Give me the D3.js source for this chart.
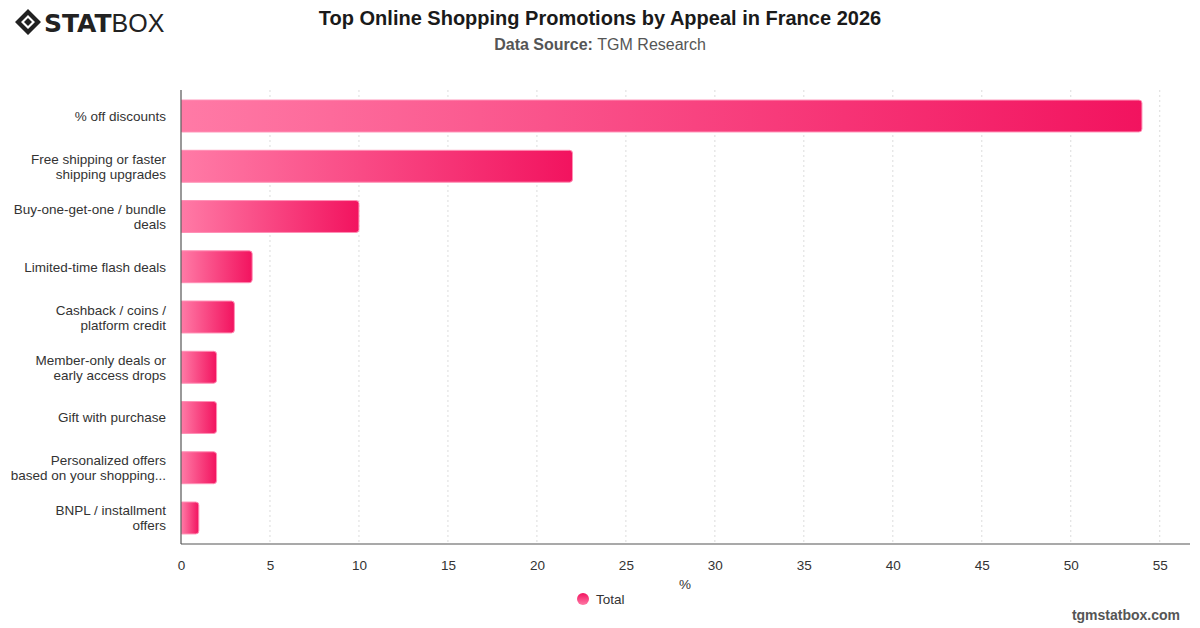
<!DOCTYPE html>
<html>
<head>
<meta charset="utf-8">
<script src="https://cdn.jsdelivr.net/npm/d3@7"></script>
<style>
  body { margin: 0; background: #fff; font-family: "Liberation Sans", Arial, sans-serif; }
</style>
</head>
<body>
<div id="chart"></div>
<script>
'use strict'

var width = 1200;
var height = 628;
var margin = {top: 90, right: 10, bottom: 84, left: 181};

var categories = [
  ['% off discounts'],
  ['Free shipping or faster', 'shipping upgrades'],
  ['Buy-one-get-one / bundle', 'deals'],
  ['Limited-time flash deals'],
  ['Cashback / coins /', 'platform credit'],
  ['Member-only deals or', 'early access drops'],
  ['Gift with purchase'],
  ['Personalized offers', 'based on your shopping...'],
  ['BNPL / installment', 'offers']
];
var totals = [54, 22, 10, 4, 3, 2, 2, 2, 1];
var xTicks = [0, 5, 10, 15, 20, 25, 30, 35, 40, 45, 50, 55];
var seriesName = 'Total';
var xTitle = '%';

var svg = d3.select('#chart').append('svg')
  .attr('width', width)
  .attr('height', height);

//gradient for the bars
var defs = svg.append('defs');
var grad = defs.append('linearGradient')
  .attr('id', 'barGrad')
  .attr('x1', '0').attr('x2', '1').attr('y1', '0').attr('y2', '0');
grad.append('stop').attr('offset', '0%').attr('stop-color', '#ff7aa6');
grad.append('stop').attr('offset', '100%').attr('stop-color', '#f2135f');

var dotGrad = defs.append('linearGradient')
  .attr('id', 'dotGrad')
  .attr('x1', '0').attr('x2', '0').attr('y1', '0').attr('y2', '1');
dotGrad.append('stop').attr('offset', '0%').attr('stop-color', '#f2135f');
dotGrad.append('stop').attr('offset', '100%').attr('stop-color', '#ff7aa6');

//scales
var plotW = width - margin.left - margin.right;
var plotH = height - margin.top - margin.bottom;

var xScale = d3.scaleLinear()
  .domain([0, 56.7])
  .range([0, plotW]);

var yScale = d3.scaleBand()
  .domain(d3.range(categories.length))
  .range([0, plotH])
  .paddingInner(0.365)
  .paddingOuter(0.2);

var g = svg.append('g')
  .attr('transform', 'translate(' + margin.left + ',' + margin.top + ')');

//dotted gridlines
g.selectAll('line.grid').data(xTicks.slice(1)).enter().append('line')
  .attr('class', 'grid')
  .attr('x1', function(d){return xScale(d);})
  .attr('x2', function(d){return xScale(d);})
  .attr('y1', 0)
  .attr('y2', plotH)
  .attr('stroke', '#dcdcdc')
  .attr('stroke-width', 1)
  .attr('stroke-dasharray', '2,3');

//bars with rounded right end
function barPath(d, i){
  var x0 = 0.5, x1 = xScale(d), y0 = yScale(i), h = yScale.bandwidth(), r = 3;
  return 'M' + x0 + ',' + y0 +
    'H' + (x1 - r) +
    'Q' + x1 + ',' + y0 + ' ' + x1 + ',' + (y0 + r) +
    'V' + (y0 + h - r) +
    'Q' + x1 + ',' + (y0 + h) + ' ' + (x1 - r) + ',' + (y0 + h) +
    'H' + x0 + 'Z';
}

g.selectAll('path.bar').data(totals).enter().append('path')
  .attr('class', 'bar')
  .attr('d', barPath)
  .attr('fill', 'url(#barGrad)')
  .attr('stroke', '#ff8fb5')
  .attr('stroke-width', 1);

//axes lines
g.append('line')
  .attr('x1', 0).attr('x2', 0)
  .attr('y1', 0).attr('y2', plotH)
  .attr('stroke', '#555').attr('stroke-width', 1.2);
g.append('line')
  .attr('x1', 0).attr('x2', plotW)
  .attr('y1', plotH).attr('y2', plotH)
  .attr('stroke', '#555').attr('stroke-width', 1.2);

//x axis via d3 axis, lines hidden
var xAxis = g.append('g')
  .attr('transform', 'translate(0,' + plotH + ')')
  .call(d3.axisBottom(xScale).tickValues(xTicks).tickSize(0).tickPadding(16));
xAxis.select('.domain').remove();
xAxis.selectAll('text')
  .attr('font-family', '"Liberation Sans", Arial, sans-serif')
  .attr('font-size', 13.5)
  .attr('fill', '#333');

//category labels
var labels = g.selectAll('text.cat').data(categories).enter().append('text')
  .attr('class', 'cat')
  .attr('text-anchor', 'end')
  .attr('font-size', 13.5)
  .attr('fill', '#333')
  .attr('x', -15)
  .attr('y', function(d, i){
    return yScale(i) + yScale.bandwidth() / 2 - (d.length - 1) * 7.5 + 5;
  });
labels.each(function(d){
  var t = d3.select(this);
  d.forEach(function(line, k){
    t.append('tspan')
      .attr('x', -15)
      .attr('dy', k === 0 ? 0 : 15)
      .text(line);
  });
});

//axis title
svg.append('text')
  .attr('x', 685).attr('y', 589)
  .attr('text-anchor', 'middle')
  .attr('font-size', 13.5)
  .attr('fill', '#333')
  .text(xTitle);

//legend
svg.append('circle')
  .attr('cx', 583).attr('cy', 599).attr('r', 6)
  .attr('fill', 'url(#dotGrad)');
svg.append('text')
  .attr('x', 596).attr('y', 604)
  .attr('font-size', 13.5)
  .attr('fill', '#333')
  .text(seriesName);

//title and subtitle
svg.append('text')
  .attr('x', 600).attr('y', 25)
  .attr('text-anchor', 'middle')
  .attr('font-size', 20)
  .attr('font-weight', 'bold')
  .attr('fill', '#1a1a1a')
  .text('Top Online Shopping Promotions by Appeal in France 2026');

var sub = svg.append('text')
  .attr('x', 600).attr('y', 50)
  .attr('text-anchor', 'middle')
  .attr('font-size', 16)
  .attr('fill', '#555');
sub.append('tspan').attr('font-weight', 'bold').text('Data Source: ');
sub.append('tspan').text('TGM Research');

//footer
svg.append('text')
  .attr('x', 1180).attr('y', 620)
  .attr('text-anchor', 'end')
  .attr('font-size', 14)
  .attr('font-weight', 'bold')
  .attr('fill', '#555')
  .text('tgmstatbox.com');

//logo
var logo = svg.append('g').attr('transform', 'translate(15,9)');
logo.append('path')
  .attr('d', 'M13,0 L26,13 L13,26 L0,13 Z M13,6 L20,13 L13,20 L6,13 Z')
  .attr('fill', '#222')
  .attr('fill-rule', 'evenodd');
logo.append('path')
  .attr('d', 'M13,9 L17,13 L13,17 L9,13 Z')
  .attr('fill', '#222');
var stat = logo.append('text')
  .attr('x', 29).attr('y', 23)
  .attr('font-size', 25)
  .attr('font-weight', 'bold')
  .attr('font-family', '"DejaVu Sans", sans-serif')
  .attr('fill', '#222')
  .text('STAT');
var statEnd = 29 + stat.node().getComputedTextLength();
logo.append('text')
  .attr('x', statEnd).attr('y', 23)
  .attr('font-size', 25)
  .attr('font-family', '"Liberation Sans", Arial, sans-serif')
  .attr('fill', '#222')
  .text('BOX');
</script>
</body>
</html>
